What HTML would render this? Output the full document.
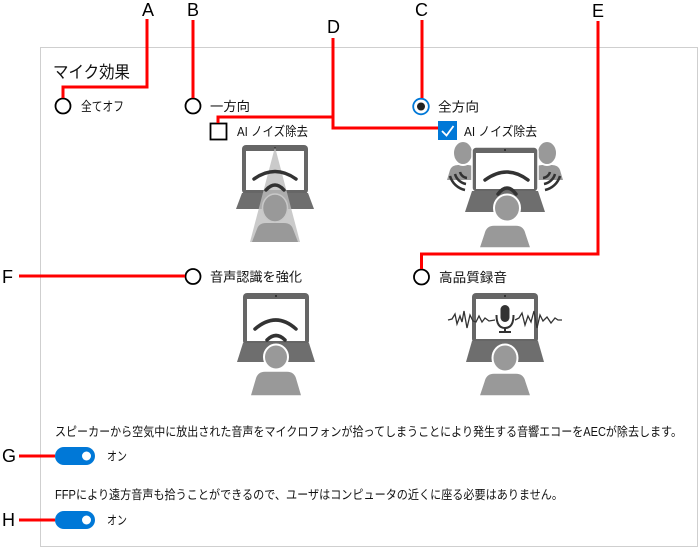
<!DOCTYPE html>
<html><head><meta charset="utf-8"><style>
html,body{margin:0;padding:0;background:#fff;}
svg{display:block;}
text{font-family:"Liberation Sans","Noto Sans CJK JP",sans-serif;fill:#111;}
.lbl{font-family:"Liberation Sans",sans-serif;font-size:18px;fill:#000;}
.red{stroke:#ff0000;stroke-width:3;fill:none;stroke-linejoin:miter;}
</style></head><body>
<svg width="700" height="550" viewBox="0 0 700 550" xmlns="http://www.w3.org/2000/svg">
<rect width="700" height="550" fill="#fff"/>
<rect x="40.5" y="47.5" width="657" height="499" fill="none" stroke="#cfcfcf" stroke-width="1"/>

<!-- Title -->
<text x="53" y="78" font-size="17" textLength="77" lengthAdjust="spacingAndGlyphs">マイク効果</text>

<!-- Radios row 1 -->
<circle cx="63" cy="106" r="7.5" fill="#fff" stroke="#000" stroke-width="1.8"/>
<text x="81" y="111" font-size="13" textLength="43" lengthAdjust="spacingAndGlyphs">全てオフ</text>
<circle cx="193" cy="106" r="7.5" fill="#fff" stroke="#000" stroke-width="1.8"/>
<text x="210" y="111" font-size="13" textLength="40" lengthAdjust="spacingAndGlyphs">一方向</text>
<circle cx="421" cy="106.5" r="7.8" fill="#fff" stroke="#0078d7" stroke-width="1.8"/>
<circle cx="421" cy="106.5" r="4" fill="#222"/>
<text x="438" y="111.5" font-size="13" textLength="41" lengthAdjust="spacingAndGlyphs">全方向</text>

<!-- Checkboxes -->
<rect x="210.5" y="123.5" width="16" height="16" fill="#fff" stroke="#000" stroke-width="1.8"/>
<text x="237" y="136" font-size="13" textLength="71" lengthAdjust="spacingAndGlyphs">AI ノイズ除去</text>
<rect x="438" y="121" width="19" height="19" fill="#0078d7"/>
<polyline points="442,131 446.5,135.5 453.5,126" fill="none" stroke="#fff" stroke-width="1.8"/>
<text x="464" y="136" font-size="13" textLength="73" lengthAdjust="spacingAndGlyphs">AI ノイズ除去</text>

<!-- Image 1: directional -->
<g>
<rect x="242" y="145" width="66" height="49" rx="4" fill="#666"/>
<rect x="246" y="151" width="58" height="39" fill="#fff"/>
<circle cx="275" cy="148" r="1" fill="#222"/>
<polygon points="242,193 308,193 314,209 236,209" fill="#6e6e6e"/>
<polygon points="275,147 300,242 250,242" fill="#bdbdbd" opacity="0.8"/>
<path d="M254,179 Q275,164 296,179" stroke="#333" stroke-width="3.5" fill="none" stroke-linecap="round"/>
<path d="M266,190 Q275,180 284,190" stroke="#333" stroke-width="3.5" fill="none" stroke-linecap="round"/>
<path d="M252,242 L257,229 Q259,223 266,223 L284,223 Q291,223 293,229 L298,242 Z" fill="#999"/>
<ellipse cx="275" cy="208" rx="12.5" ry="14" fill="#999" stroke="#c8c8c8" stroke-width="1.5"/>
</g>

<!-- Image 2: omni -->
<g>
<path d="M447,180 L450,170 Q452,165 458,165 L468,165 Q474,165 476,170 L479,180 Z" fill="#999"/>
<ellipse cx="463" cy="153" rx="10" ry="12" fill="#999" stroke="#fff" stroke-width="2"/>
<path d="M531,180 L534,170 Q536,165 542,165 L552,165 Q558,165 560,170 L563,180 Z" fill="#999"/>
<ellipse cx="547" cy="153" rx="10" ry="12" fill="#999" stroke="#fff" stroke-width="2"/>
<path d="M467,178 A8,8 0 0 1 460,172" stroke="#333" stroke-width="2.5" fill="none"/>
<path d="M466,184 A14,14 0 0 1 455,174" stroke="#333" stroke-width="2.5" fill="none"/>
<path d="M465,190 A20,20 0 0 1 450,176" stroke="#333" stroke-width="2.5" fill="none"/>
<path d="M543,178 A8,8 0 0 0 550,172" stroke="#333" stroke-width="2.5" fill="none"/>
<path d="M544,184 A14,14 0 0 0 555,174" stroke="#333" stroke-width="2.5" fill="none"/>
<path d="M545,190 A20,20 0 0 0 560,176" stroke="#333" stroke-width="2.5" fill="none"/>
<rect x="472" y="147" width="66" height="45" rx="4" fill="#666" stroke="#fff" stroke-width="1.5"/>
<rect x="476" y="153" width="58" height="36" fill="#fff"/>
<circle cx="505" cy="150" r="1" fill="#222"/>
<polygon points="472,191 538,191 545,212 465,212" fill="#6e6e6e"/>
<path d="M485,180 Q507,164 528,180" stroke="#333" stroke-width="3.5" fill="none" stroke-linecap="round"/>
<path d="M498,194 Q507,182 516,194" stroke="#333" stroke-width="3.5" fill="none" stroke-linecap="round"/>
<path d="M479,248 L484,233 Q486,225 494,225 L516,225 Q524,225 526,233 L531,248 Z" fill="#999" stroke="#fff" stroke-width="1.5"/>
<ellipse cx="507" cy="208" rx="13" ry="13.5" fill="#999" stroke="#fff" stroke-width="2"/>
</g>

<!-- Row 2 radios -->
<circle cx="193" cy="276.5" r="7.5" fill="#fff" stroke="#000" stroke-width="1.8"/>
<text x="210" y="281.5" font-size="13" textLength="92" lengthAdjust="spacingAndGlyphs">音声認識を強化</text>
<circle cx="421.5" cy="277" r="7.5" fill="#fff" stroke="#000" stroke-width="1.8"/>
<text x="439" y="282" font-size="13" textLength="68" lengthAdjust="spacingAndGlyphs">高品質録音</text>

<!-- Image 3: speech recognition -->
<g>
<rect x="243" y="293" width="66" height="52" rx="4" fill="#666"/>
<rect x="247" y="299" width="58" height="42" fill="#fff"/>
<circle cx="276" cy="296" r="1" fill="#222"/>
<polygon points="243,343 309,343 315,362 237,362" fill="#6e6e6e"/>
<path d="M255,329 Q276,311 296,329" stroke="#333" stroke-width="3.5" fill="none" stroke-linecap="round"/>
<path d="M267,340 Q276,331 285,340" stroke="#333" stroke-width="3.5" fill="none" stroke-linecap="round"/>
<path d="M250,396 L255,379 Q257,371 265,371 L287,371 Q295,371 297,379 L302,396 Z" fill="#999" stroke="#fff" stroke-width="1.5"/>
<ellipse cx="276" cy="357" rx="12" ry="12.5" fill="#999" stroke="#fff" stroke-width="2"/>
</g>

<!-- Image 4: high quality recording -->
<g>
<rect x="472" y="293" width="66" height="50" rx="4" fill="#666"/>
<rect x="476" y="299" width="58" height="40" fill="#fff"/>
<circle cx="505" cy="296" r="1" fill="#222"/>
<polygon points="472,341 538,341 544,362 466,362" fill="#6e6e6e"/>
<polyline points="448,320 452,319 455,314 457,324 460,316 462,322 464,311 467,328 470,315 473,321 476,322 479,316 482,322 485,318 489,321 495,320" fill="none" stroke="#333" stroke-width="1.3"/>
<polyline points="515,320 519,318 522,313 525,325 528,316 531,322 534,311 537,328 540,315 543,321 547,317 551,323 555,318 558,320 562,320" fill="none" stroke="#333" stroke-width="1.3"/>
<rect x="500.5" y="305" width="9" height="17" rx="4.5" fill="#333"/>
<path d="M496.5,315 Q496.5,328 505,328 Q513.5,328 513.5,315" fill="none" stroke="#333" stroke-width="2"/>
<line x1="505" y1="328" x2="505" y2="332" stroke="#333" stroke-width="2"/>
<line x1="499" y1="332" x2="511" y2="332" stroke="#333" stroke-width="2"/>
<path d="M479,396 L484,381 Q486,373 494,373 L516,373 Q524,373 526,381 L531,396 Z" fill="#999" stroke="#fff" stroke-width="1.5"/>
<ellipse cx="505" cy="358" rx="12.5" ry="13.5" fill="#999" stroke="#fff" stroke-width="2"/>
</g>

<!-- Bottom texts & toggles -->
<text x="55" y="436" font-size="12.5" textLength="627" lengthAdjust="spacingAndGlyphs">スピーカーから空気中に放出された音声をマイクロフォンが拾ってしまうことにより発生する音響エコーをAECが除去します。</text>
<rect x="55" y="447" width="40" height="18" rx="9" fill="#0078d7"/>
<circle cx="86.5" cy="456" r="4.5" fill="#fff"/>
<text x="107" y="460.5" font-size="12.5" textLength="20" lengthAdjust="spacingAndGlyphs">オン</text>

<text x="55" y="499" font-size="12.5" textLength="508" lengthAdjust="spacingAndGlyphs">FFPにより遠方音声も拾うことができるので、ユーザはコンピュータの近くに座る必要はありません。</text>
<rect x="55" y="511" width="40" height="18" rx="9" fill="#0078d7"/>
<circle cx="86.5" cy="520" r="4.5" fill="#fff"/>
<text x="107" y="524.5" font-size="12.5" textLength="20" lengthAdjust="spacingAndGlyphs">オン</text>

<!-- Red callout lines -->
<polyline class="red" points="147,19 147,87 63,87 63,98"/>
<polyline class="red" points="193,20 193,98"/>
<polyline class="red" points="422,20 422,98"/>
<polyline class="red" points="333,38 333,128 438,128"/>
<polyline class="red" points="333,117 218,117 218,123"/>
<polyline class="red" points="598,21 598,254 421.5,254 421.5,269"/>
<polyline class="red" points="19,276 185,276"/>
<polyline class="red" points="19,456 55,456"/>
<polyline class="red" points="19,520 55,520"/>

<!-- Labels -->
<text class="lbl" x="142" y="16">A</text>
<text class="lbl" x="187" y="16">B</text>
<text class="lbl" x="415" y="16">C</text>
<text class="lbl" x="327" y="33">D</text>
<text class="lbl" x="592" y="17">E</text>
<text class="lbl" x="2" y="283">F</text>
<text class="lbl" x="2" y="462">G</text>
<text class="lbl" x="2" y="526">H</text>
</svg>
</body></html>
